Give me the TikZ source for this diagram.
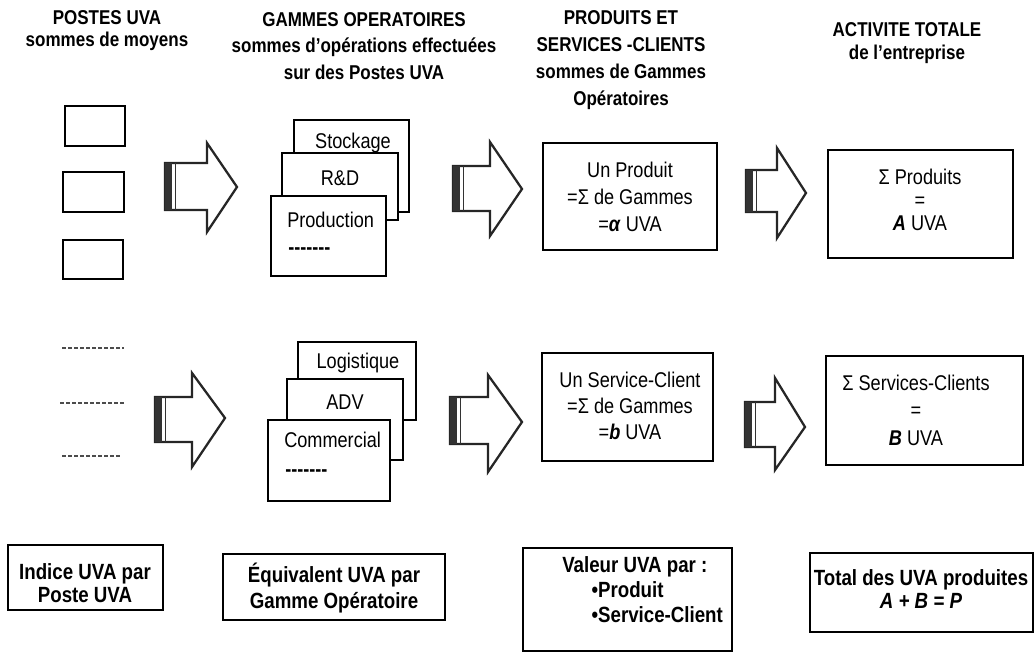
\documentclass[tikz,border=0pt]{standalone}
\usepackage{fontspec}
\setmainfont[FakeStretch=0.85]{Liberation Sans}
\usetikzlibrary{fit}
\newcommand\dashtxt{\textbf{-{}-{}-{}-{}-{}-{}-}}
% block arrow: #1 left x, #2 shaft top, #3 shaft bottom, #4 head x, #5 head top, #6 head bottom, #7 tip x, #8 tip y
\newcommand\blockarr[8]{%
  \draw[barrow] (#1,#2) -- (#4,#2) -- (#4,#5) -- (#7,#8) -- (#4,#6) -- (#4,#3) -- (#1,#3) -- cycle;
  \fill[black!80] (#1,#2) rectangle (#1+7,#3);
  \draw[line width=0.9pt,black!80] (#1+10.5,#2) -- (#1+10.5,#3);
}
\tikzset{
  box/.style={draw, line width=1.9pt, fill=white, inner sep=0pt},
  sbox/.style={draw, line width=1.6pt, inner sep=0pt},
  barrow/.style={draw=black!85, line width=1.7pt, fill=white, line join=miter},
  hdr/.style={font=\bfseries\fontsize{15}{#1}\selectfont, align=center, inner sep=0pt},
  body/.style={font=\fontsize{16}{#1}\selectfont, align=center, inner sep=0pt},
  btm/.style={font=\bfseries\fontsize{16.5}{#1}\selectfont, align=center, inner sep=0pt},
  dline/.style={line width=1.5pt, black!70, dash pattern=on 3pt off 1.5pt},
}
\begin{document}
\begin{tikzpicture}[x=0.75pt,y=-0.75pt]
\useasboundingbox (0,0) rectangle (1036,655);

% headers
\node[hdr=16.5pt] (hPostes) at (107,31) {POSTES UVA\\sommes de moyens};
\node[hdr=20pt] (hGammes) at (364,46) {GAMMES OPERATOIRES\\sommes d'opérations effectuées\\sur des Postes UVA};
\node[hdr=20.25pt] (hProduits) at (621,60) {PRODUITS ET\\SERVICES -CLIENTS\\sommes de Gammes\\Opératoires};
\node[hdr=17.25pt] (hActivite) at (907,43) {ACTIVITE TOTALE\\de l'entreprise};

% postes UVA
\node[sbox, fit={(65,106) (125,146)}] (p1) {};
\node[sbox, fit={(63,172) (124,212)}] (p2) {};
\node[sbox, fit={(63,240) (123,279)}] (p3) {};
\coordinate (d1a) at (62,348); \coordinate (d1b) at (124,348);
\coordinate (d2a) at (60,403); \coordinate (d2b) at (124,403);
\coordinate (d3a) at (62,456); \coordinate (d3b) at (120,456);
\draw[dline] (d1a) -- (d1b);
\draw[dline] (d2a) -- (d2b);
\draw[dline] (d3a) -- (d3b);

% gammes top
\node[box, fit={(294,120) (409,212)}] (gStock) {};
\node[body=18pt] (tStock) at (353,143) {Stockage};
\node[box, fit={(282,153) (398,220)}] (gRD) {};
\node[body=18pt] (tRD) at (340,178) {R\&D};
\node[box, fit={(271,196) (386,276)}] (gProd) {};
\node[body=18pt, anchor=west] (tProd) at (287,220) {Production};
\node[body=18pt, anchor=west] (tProdD) at (288,251) {\dashtxt};

% gammes bottom
\node[box, fit={(298,342) (416,420)}] (gLog) {};
\node[body=18pt] (tLog) at (358,363) {Logistique};
\node[box, fit={(287,379) (403,460)}] (gADV) {};
\node[body=18pt] (tADV) at (345,402) {ADV};
\node[box, fit={(268,420) (390,501)}] (gCom) {};
\node[body=18pt, anchor=west] (tCom) at (284,440) {Commercial};
\node[body=18pt, anchor=west] (tComD) at (285,473) {\dashtxt};

% produits / services
\node[box, fit={(543,143) (717,250)}] (bProd) {};
\node[body=20pt] (tbProd) at (630,197) {Un Produit\\=Σ de Gammes\\=\textbf{\textit{α}} UVA};
\node[box, fit={(542,353) (713,461)}] (bServ) {};
\node[body=19.5pt] (tbServ) at (630,406) {Un Service-Client\\=Σ de Gammes\\=\textbf{\textit{b}} UVA};

% activite totale
\node[box, fit={(828,150) (1013,258)}] (bA) {};
\node[body=17pt] (tbA) at (920,200) {Σ Produits\\=\\\textbf{\textit{A}} UVA};
\node[box, fit={(826,356) (1023,465)}] (bB) {};
\node[body=20.6pt] (tbB) at (916,410) {Σ Services-Clients\\=\\\textbf{\textit{B}} UVA};

% block arrows
\blockarr{165}{163}{210}{207}{143}{232}{237}{187}
\blockarr{453}{166}{211}{490}{142}{236}{522}{189}
\blockarr{746}{170}{212}{777}{148}{238}{806}{193}
\blockarr{155}{397}{442}{192}{373}{467}{225}{418}
\blockarr{450}{397}{444}{488}{375}{472}{522}{422}
\blockarr{745}{402}{447}{775}{378}{470}{805}{427}

% bottom boxes
\node[box, fit={(8,545) (163,610)}] (bIndice) {};
\node[btm=17.25pt] (tIndice) at (85,583) {Indice UVA par\\Poste UVA};
\node[box, fit={(223,554) (445,620)}] (bEquiv) {};
\node[btm=20pt] (tEquiv) at (334,588) {Équivalent UVA par\\Gamme Opératoire};
\node[box, fit={(523,548) (732,651)}] (bValeur) {};
\node[btm=18.75pt, align=left, anchor=west] (tValeur) at (562,590) {Valeur UVA par :\\\hspace*{22pt}•Produit\\\hspace*{22pt}•Service-Client};
\node[box, fit={(810,553) (1033,632)}] (bTotal) {};
\node[btm=17.25pt] (tTotal) at (921,589) {Total des UVA produites\\\textit{A + B = P}};
\end{tikzpicture}
\end{document}
